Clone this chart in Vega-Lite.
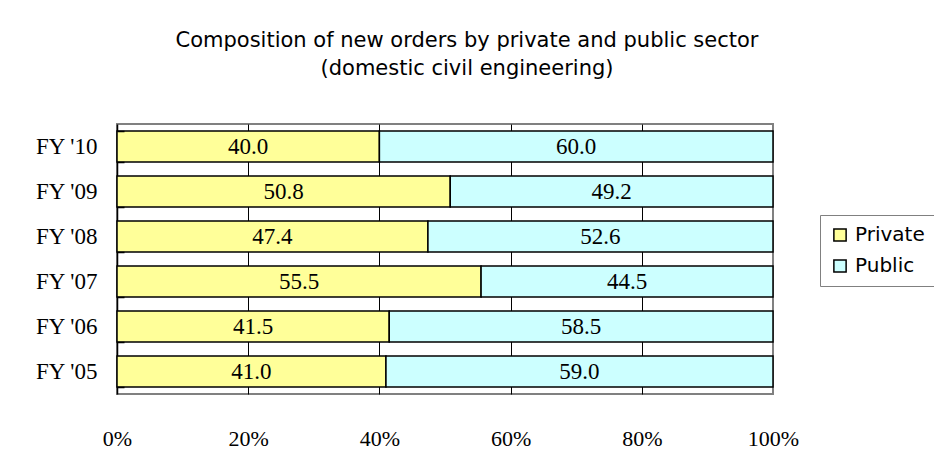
{
  "$schema": "https://vega.github.io/schema/vega-lite/v6.json",
  "autosize": "none",
  "width": 656,
  "height": 270,
  "padding": {"left": 117, "top": 124, "right": 161, "bottom": 56},
  "background": "white",
  "title": {
    "text": ["Composition of new orders by private and public sector", "(domestic civil engineering)"],
    "anchor": "middle",
    "frame": "group",
    "dx": 22,
    "offset": 45,
    "font": "DejaVu Sans",
    "fontSize": 21,
    "fontWeight": "normal",
    "color": "black",
    "lineHeight": 28
  },
  "data": {
    "values": [
      {"year": "FY '10", "sector": "Private", "value": 40.0},
      {"year": "FY '10", "sector": "Public", "value": 60.0},
      {"year": "FY '09", "sector": "Private", "value": 50.8},
      {"year": "FY '09", "sector": "Public", "value": 49.2},
      {"year": "FY '08", "sector": "Private", "value": 47.4},
      {"year": "FY '08", "sector": "Public", "value": 52.6},
      {"year": "FY '07", "sector": "Private", "value": 55.5},
      {"year": "FY '07", "sector": "Public", "value": 44.5},
      {"year": "FY '06", "sector": "Private", "value": 41.5},
      {"year": "FY '06", "sector": "Public", "value": 58.5},
      {"year": "FY '05", "sector": "Private", "value": 41.0},
      {"year": "FY '05", "sector": "Public", "value": 59.0}
    ]
  },
  "encoding": {
    "x": {
      "field": "value",
      "type": "quantitative",
      "stack": "zero",
      "scale": {"domain": [0, 100], "nice": false},
      "axis": {
        "title": null,
        "values": [0, 20, 40, 60, 80, 100],
        "labelExpr": "datum.value + '%'",
        "labelFlush": false,
        "domain": false,
        "ticks": false,
        "grid": true,
        "gridColor": {"condition": {"test": "datum.value == 100 || datum.value == 0", "value": "transparent"}, "value": "black"},
        "gridWidth": 1,
        "labelPadding": 34,
        "labelFont": "Liberation Serif",
        "labelFontSize": 22,
        "labelColor": "black"
      }
    },
    "order": {"field": "sector", "sort": "ascending"}
  },
  "layer": [
    {
      "mark": {"type": "bar", "stroke": "black", "strokeWidth": 1.5},
      "encoding": {
        "y": {
          "field": "year",
          "type": "nominal",
          "sort": ["FY '10", "FY '09", "FY '08", "FY '07", "FY '06", "FY '05"],
          "scale": {"paddingInner": 0.31, "paddingOuter": 0.155},
          "axis": {
            "title": null,
            "orient": "left",
            "domainColor": "black",
            "domainWidth": 1.5,
            "ticks": false,
            "labelPadding": 20,
            "labelFont": "Liberation Serif",
            "labelFontSize": 23,
            "labelColor": "black",
            "grid": false
          }
        },
        "color": {
          "field": "sector",
          "type": "nominal",
          "scale": {"domain": ["Private", "Public"], "range": ["#FFFF99", "#CCFFFF"]},
          "legend": {
            "title": null,
            "orient": "none",
            "legendX": 703,
            "legendY": 91,
            "strokeColor": "#808080",
            "fillColor": "white",
            "padding": 10,
            "symbolType": "square",
            "symbolSize": 150,
            "symbolStrokeColor": "black",
            "symbolStrokeWidth": 1.5,
            "symbolOpacity": 1,
            "labelFont": "DejaVu Sans",
            "labelFontSize": 20,
            "labelColor": "black",
            "labelOffset": 5,
            "rowPadding": 11
          }
        }
      }
    },
    {
      "mark": {"type": "text", "font": "Liberation Serif", "fontSize": 23, "color": "black", "baseline": "middle"},
      "encoding": {
        "y": {
          "field": "year",
          "type": "nominal",
          "sort": ["FY '10", "FY '09", "FY '08", "FY '07", "FY '06", "FY '05"],
          "axis": {
            "title": null,
            "orient": "left",
            "domain": false,
            "labels": false,
            "grid": false,
            "ticks": true,
            "tickColor": "black",
            "tickWidth": 1.5,
            "tickBand": "extent",
            "tickSize": 7,
            "offset": -7,
            "zindex": 1
          }
        },
        "x": {"field": "value", "type": "quantitative", "stack": "zero", "bandPosition": 0.5},
        "detail": {"field": "sector"},
        "text": {"field": "value", "type": "quantitative", "format": ".1f"}
      }
    }
  ],
  "resolve": {"axis": {"y": "independent"}},
  "config": {
    "view": {"stroke": "#808080", "strokeWidth": 2}
  }
}
